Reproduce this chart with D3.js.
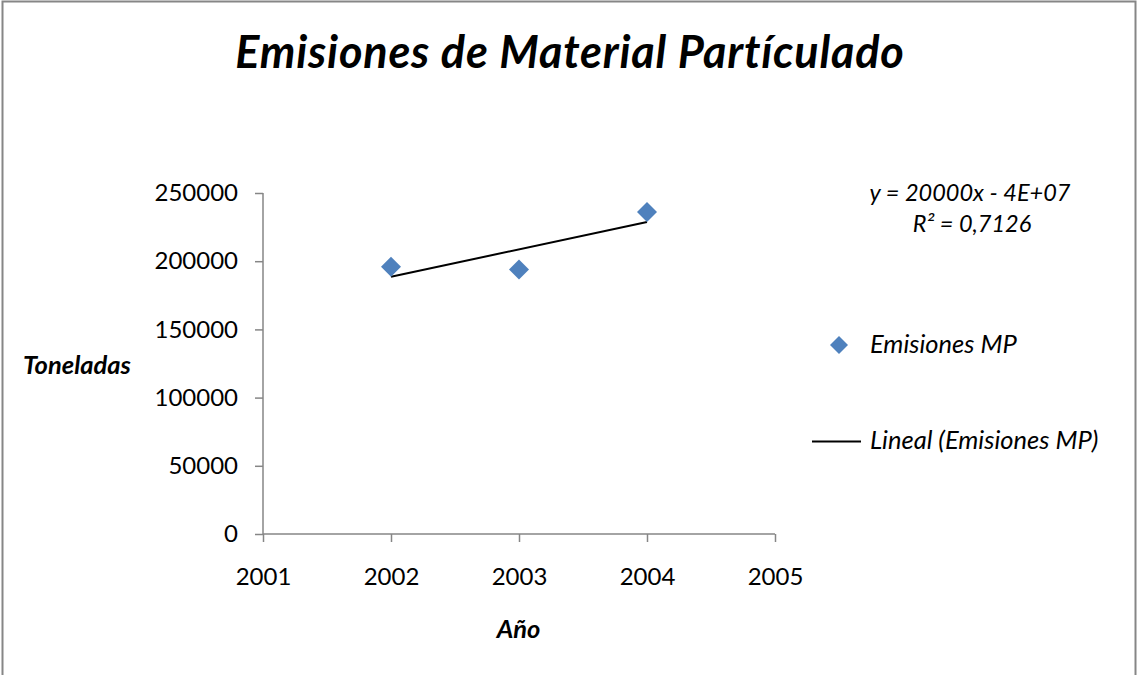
<!DOCTYPE html>
<html><head><meta charset="utf-8">
<script src="https://cdn.jsdelivr.net/npm/d3@7"></script>
<style>
html,body{margin:0;padding:0;background:#fff;}
text{font-family:Lato,"Open Sans",sans-serif;}
</style></head>
<body>
<svg id="chart" width="1137" height="675"></svg>
<script>
const years = [2002, 2003, 2004];
const emisiones = [196000, 194000, 236000];
const xTicks = [2001, 2002, 2003, 2004, 2005];
const yTicks = [0, 50000, 100000, 150000, 200000, 250000];
const title = "Emisiones de Material Partículado";
const seriesName = "Emisiones MP";
const trendName = "Lineal (Emisiones MP)";
const eqText = "y = 20000x - 4E+07";
const r2Text = "R² = 0,7126";

const svg = d3.select("#chart");
svg.append("rect").attr("x",2.5).attr("y",1.5).attr("width",1133).attr("height",690)
  .attr("fill","#fff").attr("stroke","#868686").attr("stroke-width",2);

const x = d3.scaleLinear().domain([2001,2005]).range([263,775]);
const y = d3.scaleLinear().domain([0,250000]).range([534,193]);

const yAxis = svg.append("g").attr("transform","translate(263,0)")
  .call(d3.axisLeft(y).tickValues(yTicks).tickSize(8).tickPadding(17).tickFormat(d3.format("d")));
const xAxis = svg.append("g").attr("transform","translate(0,534)")
  .call(d3.axisBottom(x).tickValues(xTicks).tickSize(8).tickPadding(26).tickFormat(d3.format("d")));
[yAxis,xAxis].forEach(g=>{
  g.selectAll("path,line").attr("stroke","#868686").attr("stroke-width",1.5);
  g.select(".domain").attr("d", g===yAxis ? "M0,193V534" : "M263,0H775");
  g.selectAll("text").attr("font-size",24).attr("fill","#000").attr("font-family","Lato");
});

// linear trend line (least squares fit of the series)
const mx = d3.mean(years), my = d3.mean(emisiones);
const slope = d3.sum(years.map((v,i)=>(v-mx)*(emisiones[i]-my)))/d3.sum(years.map(v=>(v-mx)**2));
const icpt = my - slope*mx;
svg.append("path").datum(d3.extent(years))
  .attr("d", d3.line().x(d=>x(d)).y(d=>y(slope*d+icpt)))
  .attr("stroke","#000").attr("stroke-width",2).attr("fill","none");

// points
svg.selectAll(".pt").data(years).join("path")
  .attr("class","pt").attr("d",d3.symbol().type(d3.symbolSquare).size(200)())
  .attr("transform",(d,i)=>`translate(${x(d)},${y(emisiones[i])}) rotate(45)`)
  .attr("fill","#4F81BD");

// title
svg.append("text").attr("x",570).attr("y",68).attr("text-anchor","middle")
  .attr("font-size",45).attr("letter-spacing",0.8).attr("font-weight","bold").attr("font-style","italic").text(title);

// axis titles
svg.append("text").attr("x",77).attr("y",374).attr("text-anchor","middle")
  .attr("font-size",25.5).attr("font-weight","bold").attr("font-style","italic").text("Toneladas");
svg.append("text").attr("x",518.5).attr("y",638).attr("text-anchor","middle")
  .attr("font-size",25.5).attr("font-weight","bold").attr("font-style","italic").text("Año");

// equation
svg.append("text").attr("x",970).attr("y",201).attr("text-anchor","middle")
  .attr("font-size",23.5).attr("font-style","italic").text(eqText);
svg.append("text").attr("x",972).attr("y",232).attr("text-anchor","middle")
  .attr("font-size",23.5).attr("font-style","italic").text(r2Text);

// legend
svg.append("path").attr("d",d3.symbol().type(d3.symbolSquare).size(162)())
  .attr("transform","translate(839,345) rotate(45)").attr("fill","#4F81BD");
svg.append("text").attr("x",870).attr("y",353).attr("font-size",25.5).attr("font-style","italic").text(seriesName);
svg.append("line").attr("x1",812).attr("x2",861).attr("y1",441.5).attr("y2",441.5)
  .attr("stroke","#000").attr("stroke-width",2);
svg.append("text").attr("x",870).attr("y",449).attr("font-size",25.5).attr("font-style","italic").text(trendName);
</script>
</body></html>
